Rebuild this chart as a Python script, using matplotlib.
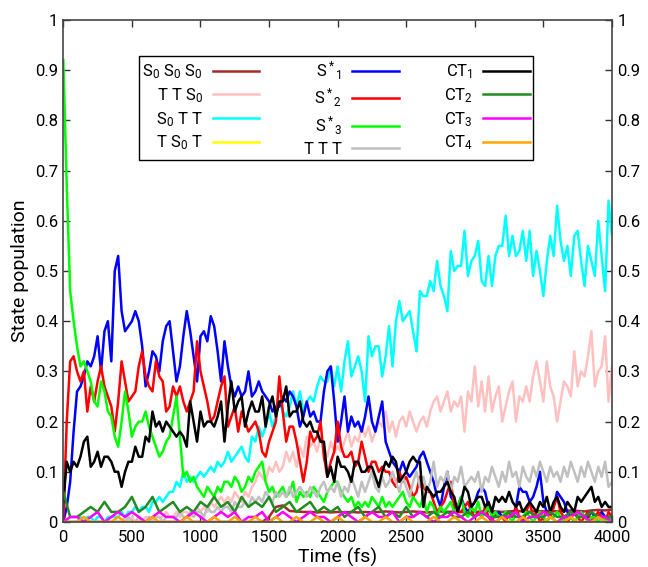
import numpy as np
import matplotlib
matplotlib.use("Agg")
import matplotlib.pyplot as plt

plt.rcParams['font.family'] = ['Roboto', 'DejaVu Sans']
plt.rcParams['mathtext.fontset'] = 'custom'
plt.rcParams['mathtext.rm'] = 'Roboto'
plt.rcParams['mathtext.it'] = 'Roboto'
plt.rcParams['mathtext.default'] = 'rm'

# time grids (fs)
t_fine = np.arange(0, 4001, 25)
t_coarse = np.arange(0, 4001, 50)

# S*1
s1 = [0.00, 0.03, 0.08, 0.18, 0.26, 0.27, 0.29, 0.32,
      0.31, 0.33, 0.37, 0.30, 0.38, 0.40, 0.32, 0.50,
      0.53, 0.42, 0.38, 0.39, 0.40, 0.42, 0.40, 0.35,
      0.27, 0.30, 0.34, 0.33, 0.30, 0.36, 0.39, 0.40,
      0.34, 0.28, 0.31, 0.37, 0.42, 0.38, 0.33, 0.28,
      0.37, 0.38, 0.36, 0.41, 0.39, 0.34, 0.28, 0.36,
      0.31, 0.27, 0.25, 0.27, 0.25, 0.26, 0.30, 0.25,
      0.26, 0.28, 0.26, 0.25, 0.24, 0.22, 0.23, 0.23,
      0.25, 0.24, 0.26, 0.25, 0.23, 0.19, 0.21, 0.24,
      0.21, 0.22, 0.20, 0.20, 0.26, 0.30, 0.31, 0.24,
      0.16, 0.20, 0.25, 0.18, 0.21, 0.19, 0.20, 0.18,
      0.21, 0.25, 0.20, 0.18, 0.21, 0.24, 0.16, 0.14,
      0.12, 0.11, 0.10, 0.12, 0.10, 0.09, 0.10, 0.11,
      0.13, 0.14, 0.12, 0.10, 0.08, 0.05, 0.03, 0.07,
      0.10, 0.05, 0.04, 0.03, 0.05, 0.03, 0.02, 0.03,
      0.04, 0.06, 0.07, 0.06, 0.03, 0.02, 0.01, 0.02,
      0.01, 0.01, 0.02, 0.01, 0.03, 0.07, 0.06, 0.06,
      0.04, 0.05, 0.07, 0.10, 0.04, 0.02, 0.01, 0.03,
      0.06, 0.05, 0.04, 0.02, 0.01, 0.02, 0.01, 0.02,
      0.01, 0.01, 0.02, 0.01, 0.01, 0.02, 0.01, 0.01,
      0.01]

# S*2
s2 = [0.00, 0.20, 0.32, 0.33, 0.30, 0.28, 0.30, 0.22,
      0.27, 0.24, 0.28, 0.31, 0.27, 0.25, 0.23, 0.18,
      0.24, 0.32, 0.28, 0.24, 0.25, 0.26, 0.31, 0.34,
      0.29, 0.27, 0.26, 0.32, 0.29, 0.28, 0.22, 0.23,
      0.27, 0.25, 0.27, 0.24, 0.22, 0.24, 0.26, 0.36,
      0.30, 0.27, 0.24, 0.20, 0.21, 0.24, 0.27, 0.29,
      0.19, 0.21, 0.23, 0.18, 0.22, 0.20, 0.18, 0.19,
      0.20, 0.18, 0.14, 0.13, 0.16, 0.18, 0.20, 0.29,
      0.22, 0.16, 0.19, 0.19, 0.16, 0.12, 0.08, 0.12,
      0.18, 0.16, 0.17, 0.20, 0.13, 0.09, 0.12, 0.14,
      0.20, 0.15, 0.13, 0.13, 0.14, 0.11, 0.12, 0.16,
      0.13, 0.10, 0.12, 0.12, 0.10, 0.11, 0.10, 0.10,
      0.08, 0.07, 0.10, 0.08, 0.09, 0.07, 0.05, 0.06,
      0.09, 0.07, 0.06, 0.06, 0.04, 0.02, 0.03, 0.04,
      0.06, 0.08, 0.03, 0.02, 0.02, 0.03, 0.04, 0.02,
      0.01, 0.02, 0.01, 0.03, 0.01, 0.00, 0.02, 0.01,
      0.01, 0.00, 0.02, 0.01, 0.03, 0.01, 0.00, 0.02,
      0.04, 0.01, 0.02, 0.00, 0.01, 0.02, 0.01, 0.03,
      0.05, 0.02, 0.01, 0.00, 0.01, 0.02, 0.01, 0.00,
      0.01, 0.02, 0.00, 0.01, 0.02, 0.01, 0.00, 0.02,
      0.01]

# S*3
s3 = [0.92, 0.67, 0.46, 0.40, 0.35, 0.31, 0.32, 0.30,
      0.28, 0.24, 0.23, 0.28, 0.26, 0.22, 0.21, 0.17,
      0.15, 0.20, 0.26, 0.22, 0.17, 0.19, 0.20, 0.20,
      0.22, 0.19, 0.17, 0.15, 0.13, 0.14, 0.16, 0.17,
      0.21, 0.25, 0.17, 0.09, 0.10, 0.08, 0.09, 0.07,
      0.06, 0.05, 0.07, 0.06, 0.05, 0.07, 0.06, 0.08,
      0.08, 0.07, 0.09, 0.08, 0.06, 0.07, 0.09, 0.08,
      0.10, 0.11, 0.12, 0.08, 0.06, 0.07, 0.05, 0.06,
      0.07, 0.05, 0.06, 0.08, 0.04, 0.06, 0.05, 0.06,
      0.05, 0.07, 0.06, 0.05, 0.04, 0.06, 0.07, 0.08,
      0.08, 0.06, 0.05, 0.04, 0.05, 0.03, 0.04, 0.03,
      0.04, 0.03, 0.05, 0.04, 0.03, 0.05, 0.03, 0.04,
      0.03, 0.04, 0.05, 0.06, 0.04, 0.03, 0.05, 0.04,
      0.03, 0.05, 0.02, 0.04, 0.03, 0.01, 0.03, 0.02,
      0.03, 0.04, 0.02, 0.03, 0.05, 0.02, 0.01, 0.03,
      0.02, 0.04, 0.01, 0.02, 0.03, 0.01, 0.02, 0.01,
      0.01, 0.02, 0.01, 0.00, 0.02, 0.01, 0.01, 0.02,
      0.01, 0.00, 0.01, 0.02, 0.01, 0.00, 0.01, 0.01,
      0.02, 0.01, 0.00, 0.01, 0.01, 0.00, 0.01, 0.02,
      0.01, 0.00, 0.01, 0.01, 0.00, 0.01, 0.00, 0.01,
      0.00]

# CT1
ct1 = [0.04, 0.12, 0.10, 0.12, 0.11, 0.13, 0.16, 0.17,
       0.11, 0.12, 0.14, 0.11, 0.13, 0.13, 0.12, 0.10,
       0.10, 0.07, 0.10, 0.12, 0.12, 0.15, 0.13, 0.13,
       0.17, 0.16, 0.22, 0.19, 0.20, 0.18, 0.20, 0.19,
       0.18, 0.17, 0.18, 0.17, 0.15, 0.24, 0.20, 0.16,
       0.22, 0.19, 0.20, 0.20, 0.19, 0.21, 0.24, 0.16,
       0.23, 0.28, 0.22, 0.24, 0.25, 0.19, 0.22, 0.24,
       0.22, 0.22, 0.25, 0.19, 0.23, 0.25, 0.21, 0.24,
       0.24, 0.27, 0.21, 0.22, 0.22, 0.24, 0.20, 0.19,
       0.20, 0.18, 0.18, 0.16, 0.16, 0.09, 0.11, 0.08,
       0.13, 0.11, 0.11, 0.10, 0.08, 0.12, 0.12, 0.10,
       0.10, 0.11, 0.11, 0.09, 0.07, 0.10, 0.12, 0.11,
       0.13, 0.12, 0.08, 0.09, 0.10, 0.12, 0.13, 0.12,
       0.12, 0.03, 0.07, 0.06, 0.05, 0.06, 0.06, 0.07,
       0.08, 0.06, 0.05, 0.02, 0.04, 0.07, 0.06, 0.03,
       0.04, 0.05, 0.05, 0.03, 0.04, 0.02, 0.05, 0.04,
       0.05, 0.04, 0.06, 0.04, 0.03, 0.04, 0.02, 0.03,
       0.04, 0.03, 0.02, 0.04, 0.03, 0.05, 0.02, 0.04,
       0.05, 0.03, 0.02, 0.04, 0.03, 0.02, 0.05, 0.04,
       0.05, 0.06, 0.07, 0.04, 0.05, 0.03, 0.04, 0.03,
       0.03]

# S0 T T
s0tt = [0.00, 0.00, 0.00, 0.00, 0.00, 0.01, 0.00, 0.01,
        0.01, 0.00, 0.01, 0.01, 0.00, 0.01, 0.01, 0.01,
        0.01, 0.02, 0.01, 0.02, 0.02, 0.03, 0.02, 0.03,
        0.03, 0.02, 0.04, 0.04, 0.05, 0.04, 0.05, 0.06,
        0.06, 0.08, 0.07, 0.10, 0.08, 0.09, 0.08, 0.09,
        0.10, 0.09, 0.10, 0.11, 0.10, 0.12, 0.11, 0.12,
        0.14, 0.12, 0.13, 0.14, 0.15, 0.13, 0.12, 0.17,
        0.16, 0.19, 0.17, 0.19, 0.22, 0.19, 0.21, 0.24,
        0.22, 0.21, 0.23, 0.26, 0.23, 0.26, 0.22, 0.24,
        0.25, 0.24, 0.27, 0.29, 0.28, 0.28, 0.31, 0.27,
        0.31, 0.26, 0.32, 0.36, 0.29, 0.31, 0.33, 0.30,
        0.24, 0.37, 0.33, 0.35, 0.35, 0.29, 0.33, 0.39,
        0.31, 0.40, 0.44, 0.40, 0.41, 0.42, 0.38, 0.34,
        0.46, 0.45, 0.45, 0.48, 0.46, 0.52, 0.47, 0.45,
        0.42, 0.54, 0.50, 0.51, 0.51, 0.58, 0.49, 0.52,
        0.53, 0.56, 0.48, 0.47, 0.53, 0.47, 0.53, 0.55,
        0.55, 0.61, 0.53, 0.57, 0.53, 0.54, 0.58, 0.52,
        0.58, 0.49, 0.54, 0.50, 0.45, 0.52, 0.57, 0.53,
        0.63, 0.56, 0.52, 0.55, 0.49, 0.57, 0.58, 0.52,
        0.47, 0.55, 0.52, 0.49, 0.60, 0.53, 0.46, 0.64,
        0.57]

# T T S0
tts0 = [0.00, 0.00, 0.00, 0.00, 0.00, 0.00, 0.00, 0.00,
        0.00, 0.00, 0.00, 0.00, 0.00, 0.00, 0.00, 0.00,
        0.00, 0.00, 0.01, 0.00, 0.01, 0.00, 0.01, 0.00,
        0.01, 0.01, 0.00, 0.01, 0.01, 0.01, 0.02, 0.01,
        0.01, 0.02, 0.01, 0.02, 0.02, 0.01, 0.02, 0.03,
        0.02, 0.03, 0.02, 0.04, 0.03, 0.04, 0.05, 0.04,
        0.05, 0.04, 0.06, 0.05, 0.04, 0.06, 0.05, 0.07,
        0.08, 0.10, 0.09, 0.08, 0.11, 0.10, 0.12, 0.10,
        0.11, 0.14, 0.12, 0.14, 0.11, 0.15, 0.13, 0.17,
        0.15, 0.16, 0.14, 0.17, 0.15, 0.13, 0.16, 0.14,
        0.15, 0.14, 0.16, 0.18, 0.15, 0.17, 0.16, 0.19,
        0.17, 0.19, 0.16, 0.18, 0.20, 0.19, 0.22, 0.18,
        0.20, 0.17, 0.20, 0.21, 0.19, 0.22, 0.20, 0.18,
        0.20, 0.21, 0.19, 0.22, 0.24, 0.25, 0.22, 0.24,
        0.26, 0.22, 0.24, 0.23, 0.25, 0.18, 0.26, 0.24,
        0.31, 0.23, 0.28, 0.22, 0.29, 0.22, 0.25, 0.27,
        0.20, 0.23, 0.26, 0.28, 0.20, 0.25, 0.24, 0.27,
        0.24, 0.29, 0.32, 0.28, 0.24, 0.32, 0.27, 0.25,
        0.20, 0.24, 0.28, 0.27, 0.25, 0.34, 0.27, 0.30,
        0.29, 0.33, 0.38, 0.27, 0.30, 0.31, 0.37, 0.24,
        0.31]

# T T T
ttt = [0.00, 0.00, 0.00, 0.00, 0.00, 0.00, 0.00, 0.00,
       0.00, 0.00, 0.00, 0.00, 0.00, 0.00, 0.00, 0.00,
       0.00, 0.00, 0.00, 0.01, 0.00, 0.00, 0.01, 0.00,
       0.00, 0.01, 0.00, 0.01, 0.01, 0.00, 0.01, 0.01,
       0.01, 0.01, 0.02, 0.01, 0.01, 0.02, 0.01, 0.02,
       0.02, 0.01, 0.03, 0.02, 0.02, 0.03, 0.02, 0.03,
       0.03, 0.02, 0.04, 0.03, 0.03, 0.04, 0.03, 0.05,
       0.04, 0.05, 0.04, 0.06, 0.05, 0.04, 0.06, 0.05,
       0.06, 0.05, 0.07, 0.05, 0.06, 0.07, 0.06, 0.05,
       0.07, 0.06, 0.05, 0.07, 0.08, 0.06, 0.07, 0.06,
       0.08, 0.05, 0.07, 0.06, 0.09, 0.07, 0.05, 0.08,
       0.06, 0.08, 0.10, 0.07, 0.06, 0.09, 0.07, 0.08,
       0.10, 0.08, 0.06, 0.09, 0.07, 0.05, 0.08, 0.10,
       0.07, 0.09, 0.06, 0.08, 0.12, 0.07, 0.09, 0.08,
       0.10, 0.06, 0.09, 0.08, 0.11, 0.07, 0.08, 0.09,
       0.08, 0.10, 0.06, 0.09, 0.08, 0.11, 0.09, 0.07,
       0.10, 0.08, 0.12, 0.09, 0.10, 0.07, 0.11, 0.09,
       0.08, 0.11, 0.09, 0.12, 0.10, 0.08, 0.11, 0.09,
       0.10, 0.08, 0.11, 0.09, 0.12, 0.10, 0.08, 0.11,
       0.09, 0.12, 0.10, 0.08, 0.11, 0.09, 0.12, 0.07,
       0.08]

# coarse-sampled minor populations (50 fs)
s0s0s0 = [0.00, 0.00, 0.00, 0.00, 0.00, 0.00, 0.00, 0.00,
          0.00, 0.00, 0.00, 0.00, 0.00, 0.00, 0.00, 0.00,
          0.00, 0.00, 0.00, 0.00, 0.00, 0.00, 0.00, 0.00,
          0.00, 0.00, 0.00, 0.00, 0.00, 0.00, 0.01, 0.03,
          0.033, 0.022, 0.021, 0.020, 0.020, 0.019, 0.020, 0.019,
          0.020, 0.019, 0.020, 0.019, 0.020, 0.019, 0.020, 0.021,
          0.020, 0.019, 0.020, 0.021, 0.020, 0.019, 0.020, 0.021,
          0.020, 0.021, 0.020, 0.019, 0.020, 0.021, 0.022, 0.021,
          0.020, 0.021, 0.022, 0.021, 0.020, 0.022, 0.021, 0.022,
          0.021, 0.022, 0.023, 0.022, 0.021, 0.023, 0.024, 0.023,
          0.025]

ts0t = [0.00] * 81

ct2 = [0.06, 0.01, 0.01, 0.02, 0.03, 0.02, 0.04, 0.02,
       0.02, 0.03, 0.05, 0.02, 0.03, 0.05, 0.02, 0.03,
       0.04, 0.02, 0.03, 0.02, 0.04, 0.03, 0.05, 0.03,
       0.04, 0.02, 0.05, 0.03, 0.04, 0.03, 0.05, 0.02,
       0.03, 0.04, 0.02, 0.03, 0.04, 0.02, 0.03, 0.02,
       0.03, 0.01, 0.02, 0.03, 0.01, 0.02, 0.03, 0.01,
       0.02, 0.01, 0.03, 0.01, 0.02, 0.01, 0.02, 0.01,
       0.02, 0.01, 0.01, 0.02, 0.01, 0.02, 0.01, 0.01,
       0.01, 0.02, 0.01, 0.01, 0.02, 0.01, 0.01, 0.02,
       0.01, 0.01, 0.02, 0.01, 0.01, 0.02, 0.01, 0.01,
       0.01]

ct3 = [0.00, 0.01, 0.01, 0.00, 0.01, 0.02, 0.00, 0.01,
       0.02, 0.01, 0.02, 0.01, 0.00, 0.01, 0.02, 0.01,
       0.01, 0.00, 0.01, 0.02, 0.01, 0.00, 0.01, 0.02,
       0.01, 0.02, 0.00, 0.01, 0.01, 0.02, 0.00, 0.01,
       0.02, 0.01, 0.00, 0.01, 0.02, 0.01, 0.01, 0.00,
       0.01, 0.02, 0.01, 0.00, 0.01, 0.02, 0.01, 0.01,
       0.02, 0.00, 0.01, 0.01, 0.02, 0.01, 0.00, 0.01,
       0.01, 0.02, 0.01, 0.00, 0.01, 0.02, 0.01, 0.00,
       0.01, 0.01, 0.02, 0.00, 0.01, 0.01, 0.02, 0.01,
       0.00, 0.01, 0.01, 0.02, 0.01, 0.00, 0.01, 0.01,
       0.00]

ct4 = [0.00, 0.00, 0.00, 0.01, 0.00, 0.00, 0.00, 0.00,
       0.01, 0.00, 0.00, 0.00, 0.00, 0.01, 0.00, 0.00,
       0.00, 0.00, 0.01, 0.00, 0.00, 0.00, 0.01, 0.00,
       0.00, 0.01, 0.00, 0.00, 0.01, 0.00, 0.00, 0.01,
       0.00, 0.00, 0.01, 0.00, 0.00, 0.01, 0.00, 0.00,
       0.01, 0.00, 0.00, 0.00, 0.01, 0.00, 0.00, 0.01,
       0.00, 0.00, 0.01, 0.00, 0.00, 0.00, 0.01, 0.00,
       0.00, 0.01, 0.00, 0.00, 0.00, 0.01, 0.00, 0.00,
       0.01, 0.00, 0.00, 0.01, 0.00, 0.00, 0.00, 0.01,
       0.00, 0.00, 0.01, 0.00, 0.00, 0.00, 0.01, 0.00,
       0.00]

labels = ['S$_0$ S$_0$ S$_0$', 'T T S$_0$', 'S$_0$ T T', 'T S$_0$ T',
          'S$^*$$_1$', 'S$^*$$_2$', 'S$^*$$_3$', 'T T T',
          'CT$_1$', 'CT$_2$', 'CT$_3$', 'CT$_4$']
colors = ['#a52a2a', '#ffc0c0', '#00ffff', '#ffff00',
          '#0000ff', '#ff0000', '#00ff00', '#c0c0c0',
          '#000000', '#228b22', '#ff00ff', '#ffa500']
series = [(t_coarse, s0s0s0), (t_fine, tts0), (t_fine, s0tt), (t_coarse, ts0t),
          (t_fine, s1), (t_fine, s2), (t_fine, s3), (t_fine, ttt),
          (t_fine, ct1), (t_coarse, ct2), (t_coarse, ct3), (t_coarse, ct4)]

yticks = np.arange(0, 1.01, 0.1)
yticklabels = ['0', '0.1', '0.2', '0.3', '0.4', '0.5', '0.6', '0.7', '0.8', '0.9', '1']
xticks = np.arange(0, 4001, 500)

fig = plt.figure(figsize=(6.48, 5.67), dpi=100)
ax = fig.add_axes([0.0977, 0.0794, 0.8467, 0.8853])

for (tt, yy), lab, col in zip(series, labels, colors):
    ax.plot(tt, yy, color=col, lw=1.8, label=lab)

ax.set_xlim(0, 4000)
ax.set_ylim(0, 1)
ax.set_xticks(xticks)
ax.set_yticks(yticks)
ax.set_yticklabels(yticklabels)
ax.tick_params(direction='in', which='both', top=True, right=True,
               labelright=True, labelsize=12, length=5, width=1,
               color='#333333')
ax.tick_params(axis='x', pad=6)
ax.tick_params(axis='y', pad=4)
for sp in ax.spines.values():
    sp.set_color('#444444')
    sp.set_linewidth(1.2)

ax.set_xlabel('Time (fs)', fontsize=14, labelpad=2)
ax.set_ylabel('State population', fontsize=14, labelpad=4)

leg = ax.legend(ncol=3, loc='upper center', bbox_to_anchor=(0.497, 0.945),
                markerfirst=False, fancybox=False, edgecolor='black',
                framealpha=1, fontsize=12, handlelength=2.8,
                columnspacing=2.7, labelspacing=0.3, borderpad=0.2,
                handletextpad=0.6)
leg.get_frame().set_linewidth(1.0)

fig.savefig('out.png', dpi=100)
